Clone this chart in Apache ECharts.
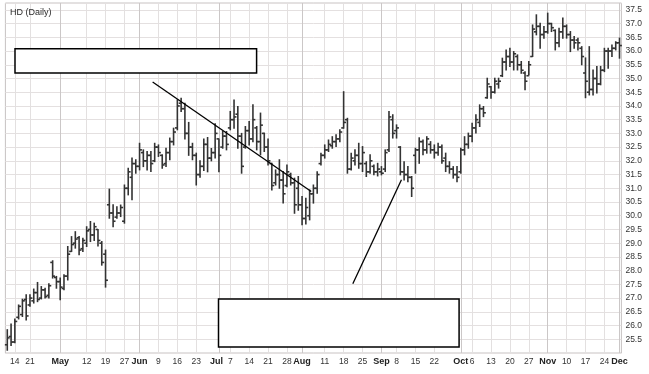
<!DOCTYPE html>
<html>
<head>
<meta charset="utf-8">
<script src="https://cdn.jsdelivr.net/npm/echarts@6/dist/echarts.min.js"></script>
<style>
html,body{margin:0;padding:0;background:#fff;}
#chart{width:649px;height:374px;}
</style>
</head>
<body>
<div id="chart"></div>
<script>
// ---- trading days (2003) ----
const aprDays = [10,11,14,15,16,17,21,22,23,24,25,28,29,30];
const mayDays = [1,2,5,6,7,8,9,12,13,14,15,16,19,20,21,22,23,27,28,29,30];
const junDays = [2,3,4,5,6,9,10,11,12,13,16,17,18,19,20,23,24,25,26,27,30];
const julDays = [1,2,3,7,8,9,10,11,14,15,16,17,18,21,22,23,24,25,28,29,30,31];
const augDays = [1,4,5,6,7,8,11,12,13,14,15,18,19,20,21,22,25,26,27,28,29];
const sepDays = [2,3,4,5,8,9,10,11,12,15,16,17,18,19,22,23,24,25,26,29,30];
const octDays = [1,2,3,6,7,8,9,10,13,14,15,16,17,20,21,22,23,24,27,28,29,30,31];
const novDays = [3,4,5,6,7,10,11,12,13,14,17,18,19,20,21,24,25,26,28];
const decDays = [1];

// ---- tick labels on the date axis ----
const tickLabels = {
  'Apr 14':'14','Apr 21':'21','May 1':'May','May 12':'12','May 19':'19','May 27':'27',
  'Jun 2':'Jun','Jun 9':'9','Jun 16':'16','Jun 23':'23','Jul 1':'Jul','Jul 7':'7',
  'Jul 14':'14','Jul 21':'21','Jul 28':'28','Aug 1':'Aug','Aug 11':'11','Aug 18':'18',
  'Aug 25':'25','Sep 2':'Sep','Sep 8':'8','Sep 15':'15','Sep 22':'22','Oct 1':'Oct',
  'Oct 6':'6','Oct 13':'13','Oct 20':'20','Oct 27':'27','Nov 3':'Nov','Nov 10':'10',
  'Nov 17':'17','Nov 24':'24','Dec 1':'Dec'
};
const monthStarts = ['May 1','Jun 2','Jul 1','Aug 1','Sep 2','Oct 1','Nov 3','Dec 1'];

// ---- daily OHLC ----
const openVals = [
25.30,25.60,25.40,26.30,26.40,26.95,26.75,26.90,27.20,27.00,
27.30,27.10,28.30,27.75,27.60,27.35,27.80,28.70,29.00,29.20,
28.80,29.00,29.50,29.30,29.50,29.00,28.60,30.40,30.10,29.95,
30.10,29.80,31.00,31.40,31.90,31.80,32.30,32.00,32.20,32.00,
32.50,32.20,31.90,32.30,32.70,33.20,34.10,33.90,33.00,32.50,
32.20,31.50,31.80,32.60,32.10,32.30,32.80,32.50,32.90,33.20,
33.50,33.70,32.90,32.50,33.10,32.80,33.20,32.70,33.00,32.50,
31.90,31.20,31.50,31.30,31.10,31.50,31.20,31.00,30.40,29.90,
30.00,30.80,31.00,31.90,32.20,32.40,32.55,32.70,32.80,33.20,
33.50,31.70,32.00,32.20,31.90,31.90,31.60,31.80,31.60,31.60,
31.70,32.40,33.50,33.10,32.50,31.60,31.50,31.40,32.20,32.40,
32.70,32.40,32.60,32.40,32.30,32.50,32.10,31.80,31.70,31.50,
31.60,32.40,32.60,32.90,33.20,33.40,33.90,34.30,34.70,34.50,
34.80,35.10,35.60,35.80,35.60,35.80,35.50,35.20,35.10,35.80,
36.70,36.90,36.60,36.70,37.00,36.75,36.30,36.70,36.90,36.60,
36.40,36.40,36.10,35.20,34.50,34.60,35.00,34.80,35.30,36.00,
36.00,36.10,36.30
];
const highVals = [
25.85,26.06,26.24,26.75,26.96,27.12,27.12,27.33,27.57,27.42,
27.36,27.52,28.36,27.79,27.73,27.85,28.88,29.24,29.42,29.24,
29.18,29.60,29.79,29.73,29.50,29.06,28.75,30.97,30.40,30.33,
30.39,31.12,31.73,32.10,32.04,32.64,32.40,32.34,32.34,32.64,
32.58,32.22,32.46,32.83,33.19,34.22,34.28,34.10,33.40,32.64,
32.28,32.00,32.80,32.85,32.45,33.35,32.80,33.07,33.07,33.80,
34.22,33.98,33.00,33.25,33.43,34.04,33.25,33.74,33.01,32.80,
31.91,31.67,32.04,31.61,31.85,31.55,31.37,31.43,30.70,30.64,
30.94,31.12,31.60,32.28,32.58,32.76,32.88,32.95,33.13,34.52,
33.55,32.28,32.40,32.64,32.52,31.97,32.22,31.85,31.91,31.79,
32.40,33.80,33.68,33.31,32.52,31.97,31.79,31.43,32.46,32.84,
32.76,32.88,32.70,32.58,32.64,32.58,32.28,31.97,31.79,31.79,
32.46,32.88,33.01,33.37,33.68,34.04,33.98,35.01,34.71,35.01,
35.01,35.74,36.04,36.10,35.98,35.86,35.62,35.25,35.62,36.95,
37.32,37.01,36.89,37.38,37.01,36.77,36.83,37.20,36.95,36.71,
36.53,36.47,36.16,35.75,36.16,35.31,35.44,35.44,36.10,36.10,
36.22,36.34,36.47
];
const lowVals = [
25.10,25.27,25.37,26.24,26.33,26.20,26.70,26.82,26.87,26.97,
27.00,27.00,27.73,27.36,26.94,27.30,27.66,28.70,28.82,28.58,
28.70,28.88,29.06,29.10,28.90,28.20,27.40,29.91,29.60,29.91,
29.97,29.73,30.76,30.58,31.55,31.67,31.79,31.67,31.61,31.97,
32.16,31.73,31.79,32.04,32.58,33.13,33.80,32.80,32.20,32.04,
31.12,31.40,31.65,31.60,32.00,32.10,31.60,32.46,32.40,33.13,
33.19,32.46,31.55,32.46,32.58,32.70,32.40,32.22,32.34,31.85,
30.94,31.12,31.00,30.46,31.06,31.12,30.09,30.20,29.67,29.70,
29.85,30.46,30.82,31.85,32.10,32.34,32.46,32.52,32.70,33.19,
31.55,31.67,31.85,31.73,31.61,31.43,31.55,31.49,31.45,31.49,
31.61,32.34,32.83,32.83,31.49,31.30,31.24,30.70,31.55,31.91,
32.22,32.28,32.28,32.10,32.20,31.91,31.61,31.55,31.37,31.24,
31.55,32.22,32.46,32.70,33.01,33.25,33.61,34.28,34.28,34.47,
34.65,35.07,35.31,35.44,35.31,35.31,35.19,34.59,35.13,35.80,
36.59,36.10,36.47,36.65,36.71,36.04,36.16,36.47,36.47,35.98,
36.10,36.04,35.50,34.30,34.40,34.40,34.47,34.77,35.25,35.37,
35.80,36.04,35.74
];
const closeVals = [
25.55,25.40,26.15,26.70,26.90,26.35,27.00,27.20,26.95,27.30,
27.05,27.45,27.80,27.60,27.40,27.80,28.60,28.95,29.15,28.75,
29.10,29.45,29.30,29.60,29.10,28.30,27.65,30.10,29.80,30.10,
30.30,31.00,31.60,31.90,31.80,32.40,32.00,32.20,31.90,32.50,
32.30,31.85,32.30,32.70,33.05,34.00,33.90,33.00,32.50,32.20,
31.50,31.80,32.60,32.10,32.30,33.00,32.20,32.90,32.60,33.50,
33.60,32.90,31.80,33.10,32.80,33.50,32.70,33.30,32.50,32.00,
31.10,31.50,31.30,30.80,31.60,31.20,30.40,30.40,29.90,30.30,
30.80,31.00,31.50,32.20,32.40,32.60,32.70,32.80,33.05,33.40,
31.70,32.10,32.20,31.90,32.30,31.60,32.00,31.60,31.70,31.55,
32.30,33.60,33.00,33.20,31.60,31.50,31.40,31.00,32.40,32.70,
32.40,32.80,32.40,32.30,32.50,32.00,31.80,31.70,31.50,31.40,
32.40,32.60,32.90,33.20,33.50,33.90,33.75,34.80,34.50,34.90,
34.90,35.60,35.80,35.60,35.90,35.50,35.30,34.90,35.50,36.80,
36.90,36.60,36.70,37.00,36.85,36.30,36.70,36.90,36.60,36.40,
36.30,36.30,35.80,34.90,34.60,35.00,34.80,35.30,36.00,36.00,
36.10,36.30,36.20
];

// ---- annotations (x in trading-day index, y in price) ----
const trendLines = [
  [[38.46, 34.87], [80.42, 30.88]],
  [[91.43, 27.52], [104.3, 31.31]]
];
const blankBoxes = [
  [[2.04, 36.08], [65.97, 35.20]],
  [[55.89, 26.97], [119.55, 25.22]]
];

// ---- build ----
const monthDays = [['Apr',aprDays],['May',mayDays],['Jun',junDays],['Jul',julDays],
  ['Aug',augDays],['Sep',sepDays],['Oct',octDays],['Nov',novDays],['Dec',decDays]];
const dates = [];
monthDays.forEach(function (md) { md[1].forEach(function (d) { dates.push(md[0] + ' ' + d); }); });

const ohlc = dates.map(function (d, i) {
  return [i, openVals[i], highVals[i], lowVals[i], closeVals[i]];
});

const gridLineData = Object.keys(tickLabels).map(function (k) {
  const isMonth = monthStarts.indexOf(k) >= 0;
  return { xAxis: dates.indexOf(k), lineStyle: { color: isMonth ? '#cbc7c7' : '#e3e0e0', width: 1, type: 'solid' } };
});

const FONT = 'Liberation Sans, Arial, sans-serif';
const chart = echarts.init(document.getElementById('chart'), null, { renderer: 'canvas' });

chart.setOption({
  animation: false,
  backgroundColor: '#ffffff',
  title: {
    text: 'HD (Daily)', left: 5, top: 3,
    textStyle: { fontSize: 9, fontWeight: 'normal', color: '#2a2a2a', fontFamily: FONT }
  },
  grid: {
    left: 5.4, top: 3, width: 616, height: 350,
    containLabel: false, outerBoundsMode: 'none',
    show: true, borderColor: '#c6c2c2', borderWidth: 1, backgroundColor: 'transparent'
  },
  xAxis: [
    {
      type: 'category', data: dates, boundaryGap: true,
      axisLine: { show: false }, axisTick: { show: false }, splitLine: { show: false },
      axisLabel: {
        interval: function (i, v) { return tickLabels[v] !== undefined; },
        formatter: function (v) {
          const t = tickLabels[v];
          if (t === undefined) return '';
          if (t === 'Jul') return '{j|' + t + '}';
          return monthStarts.indexOf(v) >= 0 ? '{b|' + t + '}' : t;
        },
        margin: 4, fontSize: 8.5, color: '#333', fontFamily: FONT, hideOverlap: false,
        rich: {
          b: { fontSize: 9, fontWeight: 'bold', color: '#222', fontFamily: FONT },
          j: { fontSize: 9, fontWeight: 'bold', color: '#222', fontFamily: FONT, padding: [0, 5, 0, 0] }
        }
      }
    },
    {
      type: 'value', min: -0.5, max: dates.length - 0.5, show: false,
      splitLine: { show: false }
    }
  ],
  yAxis: {
    type: 'value', position: 'right', min: 25, max: 37.75, interval: 0.5,
    axisLine: { show: false }, axisTick: { show: false },
    splitLine: { show: true, lineStyle: { color: '#e4e0e0', width: 1 } },
    axisLabel: {
      margin: 4, fontSize: 8.5, color: '#333', fontFamily: FONT,
      formatter: function (v) {
        const twice = v * 2;
        if (Math.abs(twice - Math.round(twice)) > 1e-6) return '';
        if (v < 25.49 || v > 37.51) return '';
        return v.toFixed(1);
      }
    }
  },
  series: [
    {
      name: 'weekGrid', type: 'line', xAxisIndex: 1, yAxisIndex: 0, data: [], silent: true, z: 1,
      markLine: { silent: true, symbol: ['none', 'none'], label: { show: false }, z: 1,
        animation: false, data: gridLineData }
    },
    {
      name: 'HD', type: 'custom', xAxisIndex: 1, yAxisIndex: 0, z: 3, data: ohlc,
      encode: { x: 0, y: [1, 2, 3, 4] },
      renderItem: function (params, api) {
        const x = api.value(0);
        const o = api.coord([x, api.value(1)]);
        const h = api.coord([x, api.value(2)]);
        const l = api.coord([x, api.value(3)]);
        const c = api.coord([x, api.value(4)]);
        const w = 2.4;
        const st = { stroke: '#333333', lineWidth: 1.6 };
        return {
          type: 'group',
          children: [
            { type: 'line', shape: { x1: h[0], y1: h[1] - 0.5, x2: l[0], y2: l[1] + 0.5 }, style: st },
            { type: 'line', shape: { x1: o[0] - w, y1: o[1], x2: o[0], y2: o[1] }, style: st },
            { type: 'line', shape: { x1: c[0], y1: c[1], x2: c[0] + w, y2: c[1] }, style: st }
          ]
        };
      }
    },
    {
      name: 'notes', type: 'line', xAxisIndex: 1, yAxisIndex: 0, data: [], silent: true, z: 6,
      markArea: {
        silent: true, z: 6,
        itemStyle: { color: '#ffffff', borderColor: '#000000', borderWidth: 1.5, opacity: 1 },
        label: { show: false },
        data: blankBoxes.map(function (b) { return [{ coord: b[0] }, { coord: b[1] }]; })
      },
      markLine: {
        silent: true, z: 7, symbol: ['none', 'none'], label: { show: false },
        lineStyle: { color: '#000000', width: 1.3, type: 'solid' },
        data: trendLines.map(function (t) { return [{ coord: t[0] }, { coord: t[1] }]; })
      }
    }
  ]
});
</script>
</body>
</html>
